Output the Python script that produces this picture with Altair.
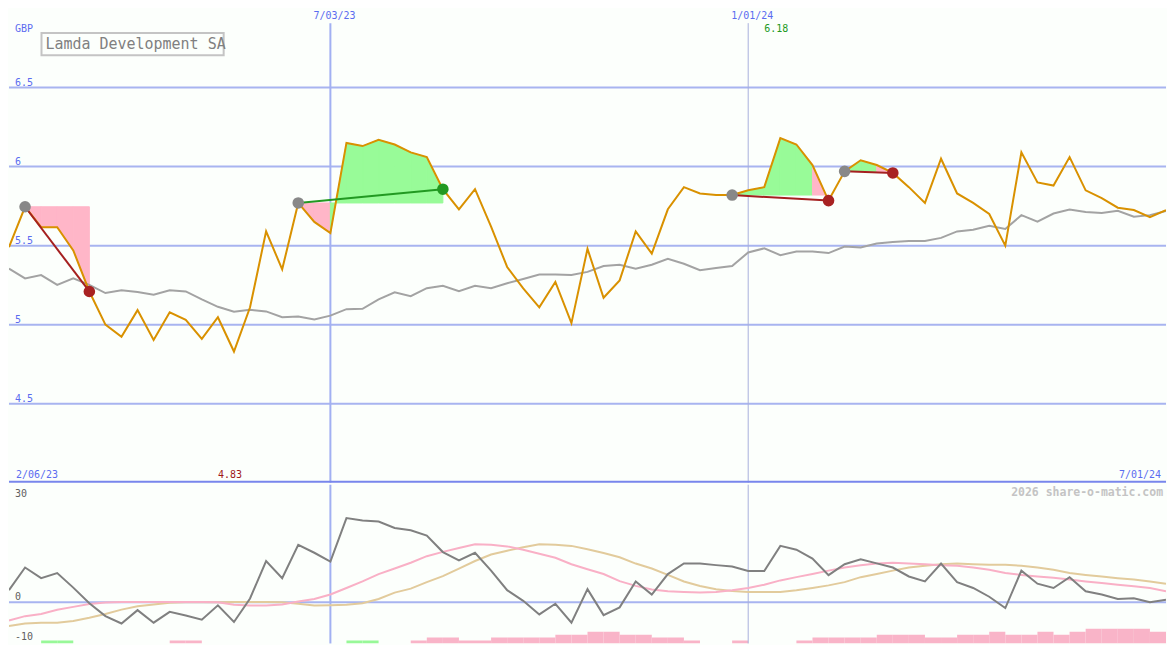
import altair as alt
import pandas as pd

# ---------------- data ----------------
first_week = "2023-02-13"          # weekly closes, one per Monday
currency = "GBP"
company = "Lamda Development SA"

price = [5.49, 5.746, 5.617, 5.617, 5.47, 5.21, 5.00, 4.924, 5.092, 4.903,
         5.078, 5.031, 4.91, 5.047, 4.83, 5.11, 5.59, 5.35, 5.77, 5.65,
         5.58, 6.15, 6.13, 6.17, 6.14, 6.09, 6.06, 5.857, 5.73, 5.857,
         5.62, 5.365, 5.23, 5.11, 5.27, 5.01, 5.48, 5.17, 5.28, 5.59,
         5.45, 5.73, 5.87, 5.83, 5.82, 5.82, 5.85, 5.87, 6.18, 6.14,
         6.01, 5.785, 5.97, 6.04, 6.01, 5.96, 5.87, 5.77, 6.05, 5.83,
         5.77, 5.70, 5.50, 6.09, 5.90, 5.88, 6.06, 5.85, 5.80, 5.74,
         5.725, 5.68, 5.725]

avg = [5.354, 5.293, 5.314, 5.252, 5.293, 5.252, 5.20, 5.217, 5.207, 5.19,
       5.217, 5.21, 5.16, 5.113, 5.082, 5.094, 5.084, 5.047, 5.051, 5.033,
       5.057, 5.098, 5.10, 5.16, 5.205, 5.18, 5.231, 5.246, 5.211, 5.246,
       5.231, 5.262, 5.289, 5.317, 5.317, 5.314, 5.334, 5.371, 5.379, 5.354,
       5.379, 5.416, 5.385, 5.344, 5.359, 5.371, 5.457, 5.483, 5.44, 5.463,
       5.463, 5.453, 5.494, 5.488, 5.514, 5.523, 5.529, 5.529, 5.549, 5.59,
       5.60, 5.625, 5.605, 5.693, 5.652, 5.703, 5.728, 5.713, 5.707, 5.72,
       5.683, 5.693, 5.72]

momentum = [3.5, 10.1, 7.0, 8.5, 4.25, -0.3, -4.05, -6.2, -2.3, -5.95,
            -2.8, -3.85, -5.1, -0.9, -5.75, 1.1, 12.0, 7.0, 16.7, 14.4,
            11.8, 24.5, 23.8, 23.5, 21.6, 20.95, 19.4, 14.6, 12.2, 14.4,
            9.2, 3.5, 0.4, -3.55, -0.45, -5.95, 3.8, -3.75, -1.5, 6.05,
            2.25, 8.2, 11.3, 11.3, 10.8, 10.4, 9.1, 9.1, 16.4, 15.3,
            12.7, 7.9, 11.05, 12.5, 11.3, 10.1, 7.5, 6.05, 11.25, 5.85,
            4.15, 1.6, -1.7, 9.2, 5.4, 4.15, 7.3, 3.2, 2.25, 0.95,
            1.15, 0.0, 0.7]

signal_pink = [-5.3, -4.05, -3.4, -2.2, -1.35, -0.55, -0.1, 0.1, 0.1, 0.1,
               0.1, 0.1, 0.1, 0.0, -0.75, -0.95, -0.95, -0.65, 0.2, 0.95,
               2.25, 4.15, 6.05, 8.2, 9.8, 11.5, 13.4, 14.65, 15.8, 16.9,
               16.7, 16.25, 15.3, 14.1, 12.95, 11.05, 9.6, 8.2, 6.15, 4.75,
               3.7, 3.2, 3.0, 2.85, 3.0, 3.5, 4.15, 5.1, 6.35, 7.3,
               8.2, 9.2, 10.1, 10.75, 11.3, 11.5, 11.3, 11.05, 10.75, 10.6,
               10.1, 9.45, 8.5, 7.95, 7.5, 7.1, 6.6, 6.05, 5.6, 5.1,
               4.65, 4.15, 3.2]

signal_tan = [-6.9, -6.2, -5.95, -5.95, -5.45, -4.5, -3.4, -2.15, -1.2, -0.65,
              -0.15, 0.0, 0.0, 0.0, 0.1, 0.1, 0.1, 0.0, -0.45, -0.95,
              -0.85, -0.75, -0.3, 0.95, 2.8, 3.95, 5.85, 7.6, 9.8, 12.0,
              13.9, 15.0, 16.0, 16.9, 16.7, 16.4, 15.4, 14.35, 13.1, 11.25,
              9.8, 7.95, 6.05, 4.75, 3.8, 3.3, 3.0, 3.0, 3.0, 3.5,
              4.15, 4.9, 5.85, 7.3, 8.2, 9.2, 10.1, 10.6, 11.05, 11.3,
              11.05, 10.9, 10.9, 10.6, 10.1, 9.45, 8.5, 7.95, 7.5, 7.0,
              6.6, 6.05, 5.4]

pink_bars = [0, 0, 0, 0, 0, 0, 0, 0, 0, 0,
             1, 1, 0, 0, 0, 0, 0, 0, 0, 0,
             0, 0, 0, 0, 0, 1, 2, 2, 1, 1,
             2, 2, 2, 2, 3, 3, 4, 4, 3, 3,
             2, 2, 1, 0, 0, 1, 0, 0, 0, 1,
             2, 2, 2, 2, 3, 3, 3, 2, 2, 3,
             3, 4, 3, 3, 4, 3, 4, 5, 5, 5,
             5, 4, 4]
green_bars = [0, 0, 1, 1, 0, 0, 0, 0, 0, 0,
              0, 0, 0, 0, 0, 0, 0, 0, 0, 0,
              0, 1, 1, 0, 0, 0, 0, 0, 0, 0,
              0, 0, 0, 0, 0, 0, 0, 0, 0, 0,
              0, 0, 0, 0, 0, 0, 0, 0, 0, 0,
              0, 0, 0, 0, 0, 0, 0, 0, 0, 0,
              0, 0, 0, 0, 0, 0, 0, 0, 0, 0,
              0, 0, 0]

trade_entries = ["2023-02-20", "2023-06-19", "2023-12-25", "2024-02-12"]
trade_exits = ["2023-03-20", "2023-08-21", "2024-02-05", "2024-03-04"]

price_ticks = [6.5, 6.0, 5.5, 5.0, 4.5]
price_tick_labels = ["6.5", "6", "5.5", "5", "4.5"]
osc_ticks = [30, 0, -10]
osc_tick_labels = ["30", "0", "-10"]

marker_dates = ["2023-07-03", "2024-01-01"]
marker_labels = ["7/03/23", "1/01/24"]
range_labels = ["2/06/23", "7/01/24"]
high_date, high_label = "2024-01-15", "6.18"
low_date, low_label = "2023-05-22", "4.83"
watermark = "2026 share-o-matic.com"

# ---------------- layout ----------------
W = 1159
H1 = 475
H2 = 159
SX = W / 1175
SY = (H1 + H2) / 650


def px(v):
    return v * SX


def py(v):
    return v * SY


MONO = "DejaVu Sans Mono"
BLUE = "#5b6cf0"
GRID = "#a8b4f0"
BG = "#fcfffc"

dates = pd.date_range(first_week, periods=len(price), freq="7D")
date_str = [d.strftime("%Y-%m-%d") for d in dates]
end_str = [(d + pd.Timedelta(days=7)).strftime("%Y-%m-%d") for d in dates]
idx = {d: i for i, d in enumerate(date_str)}

weekly = pd.DataFrame({
    "date": date_str, "price": price, "avg": avg, "mom": momentum,
    "sp": signal_pink, "st": signal_tan,
})

# trade fill segments, trade lines and markers
fill_rows, line_rows, dot_rows = [], [], []
for t, (en, ex) in enumerate(zip(trade_entries, trade_exits)):
    e, x = idx[en], idx[ex]
    base = price[e]
    result = "win" if price[x] > base else "loss"
    for s in range(e, x):
        kind = "up" if price[s + 1] >= base else "down"
        for j in (s, s + 1):
            fill_rows.append({"date": date_str[j], "price": price[j], "base": base,
                              "seg": f"{t}-{s}", "kind": kind})
    for j in (e, x):
        line_rows.append({"date": date_str[j], "price": price[j], "trade": t, "result": result})
    dot_rows.append({"date": date_str[e], "price": price[e], "kind": "entry"})
    dot_rows.append({"date": date_str[x], "price": price[x], "kind": result})
fills = pd.DataFrame(fill_rows)
tlines = pd.DataFrame(line_rows)
dots = pd.DataFrame(dot_rows)

bar_rows = []
for i in range(len(price)):
    if pink_bars[i]:
        bar_rows.append({"date": date_str[i], "end": end_str[i], "lvl": pink_bars[i], "kind": "pink"})
    if green_bars[i]:
        bar_rows.append({"date": date_str[i], "end": end_str[i], "lvl": green_bars[i], "kind": "green"})
bars = pd.DataFrame(bar_rows)

ptick_df = pd.DataFrame({"v": price_ticks, "lab": price_tick_labels})
otick_df = pd.DataFrame({"v": osc_ticks, "lab": osc_tick_labels})
mark_df = pd.DataFrame({"date": marker_dates, "lab": marker_labels})
one = pd.DataFrame({"a": [0]})

xscale = alt.Scale(type="utc", domain=[alt.DateTime(year=2023, month=2, date=13, utc=True),
                                       alt.DateTime(year=2024, month=7, date=1, utc=True)])
ytop = alt.Scale(domain=[4.0, 7.0], nice=False, zero=False)
ybot = alt.Scale(domain=[-12, 34.2], nice=False, zero=False)


def X(field="date"):
    return alt.X(f"{field}:T", scale=xscale, axis=None)


def YT(field):
    return alt.Y(f"{field}:Q", scale=ytop, axis=None)


def YB(field):
    return alt.Y(f"{field}:Q", scale=ybot, axis=None)


# ---------------- top (price) panel ----------------
grid = alt.Chart(ptick_df).mark_rule(color=GRID, strokeWidth=2).encode(y=YT("v"))
vline_a = alt.Chart(mark_df).transform_filter(f"datum.lab == '{marker_labels[0]}'").mark_rule(
    color="#a2b0f2", strokeWidth=2).encode(x=X(), y=alt.value(py(15)), y2=alt.value(H1))
vline_b = alt.Chart(mark_df).transform_filter(f"datum.lab == '{marker_labels[1]}'").mark_rule(
    color="#a8b0dc", strokeWidth=1).encode(x=X(), y=alt.value(py(15)), y2=alt.value(H1))
separator = alt.Chart(one).mark_rule(color="#7886ec", strokeWidth=2).encode(y=alt.value(H1 - 1))

fill_scale = alt.Scale(domain=["up", "down"], range=["#98fb98", "#ffb6c8"])
fill_layer = alt.Chart(fills).mark_area(clip=True, opacity=1, strokeWidth=1).encode(
    x=X(), y=YT("price"), y2="base:Q", detail="seg:N",
    color=alt.Color("kind:N", scale=fill_scale, legend=None),
    stroke=alt.Stroke("kind:N", scale=fill_scale, legend=None))
avg_line = alt.Chart(weekly).mark_line(color="#a3a3a3", strokeWidth=2, clip=True).encode(
    x=X(), y=YT("avg"))
price_line = alt.Chart(weekly).mark_line(color="#d99100", strokeWidth=2, clip=True).encode(
    x=X(), y=YT("price"))
trade_line = alt.Chart(tlines).mark_line(strokeWidth=2, clip=True).encode(
    x=X(), y=YT("price"), detail="trade:N",
    color=alt.Color("result:N", scale=alt.Scale(domain=["win", "loss"], range=["#229922", "#a52020"]),
                    legend=None))
dot_layer = alt.Chart(dots).mark_circle(size=135, opacity=1).encode(
    x=X(), y=YT("price"),
    color=alt.Color("kind:N", scale=alt.Scale(domain=["entry", "win", "loss"],
                                              range=["#888888", "#229922", "#a82222"]), legend=None))

title_box = alt.Chart(one).mark_rect(fill=BG, stroke="#c4c4c4", strokeWidth=2).encode(
    x=alt.value(px(33)), x2=alt.value(px(218)), y=alt.value(py(25)), y2=alt.value(py(48)))
title_txt = alt.Chart(pd.DataFrame({"t": [company]})).mark_text(
    align="left", baseline="middle", font=MONO, fontSize=15, color="#808080").encode(
    x=alt.value(px(37)), y=alt.value(py(36.5)), text="t:N")
cur_txt = alt.Chart(pd.DataFrame({"t": [currency]})).mark_text(
    align="left", baseline="middle", font=MONO, fontSize=10, color=BLUE).encode(
    x=alt.value(px(6)), y=alt.value(py(21)), text="t:N")
ptick_txt = alt.Chart(ptick_df).mark_text(
    align="left", baseline="alphabetic", dy=-2, font=MONO, fontSize=10, color=BLUE).encode(
    x=alt.value(px(6)), y=YT("v"), text="lab:N")
marker_txt = alt.Chart(mark_df).mark_text(
    align="center", baseline="middle", dx=4, font=MONO, fontSize=10, color=BLUE).encode(
    x=X(), y=alt.value(py(8)), text="lab:N")
high_txt = alt.Chart(pd.DataFrame({"date": [high_date], "lab": [high_label]})).mark_text(
    align="center", baseline="middle", dx=-4, font=MONO, fontSize=10, color="#229922").encode(
    x=X(), y=alt.value(py(21)), text="lab:N")
low_txt = alt.Chart(pd.DataFrame({"date": [low_date], "lab": [low_label]})).mark_text(
    align="center", baseline="middle", dx=-4, font=MONO, fontSize=10, color="#a01818").encode(
    x=X(), y=alt.value(py(479)), text="lab:N")
left_txt = alt.Chart(pd.DataFrame({"lab": [range_labels[0]]})).mark_text(
    align="left", baseline="middle", font=MONO, fontSize=10, color=BLUE).encode(
    x=alt.value(px(7)), y=alt.value(py(479)), text="lab:N")
right_txt = alt.Chart(pd.DataFrame({"lab": [range_labels[1]]})).mark_text(
    align="right", baseline="middle", font=MONO, fontSize=10, color=BLUE).encode(
    x=alt.value(px(1170)), y=alt.value(py(479)), text="lab:N")

top = alt.layer(
    grid, vline_a, vline_b, separator, fill_layer, avg_line, price_line, trade_line, dot_layer,
    title_box, title_txt, cur_txt, ptick_txt, marker_txt, high_txt, low_txt, left_txt, right_txt,
).resolve_scale(color="independent", stroke="independent").properties(width=W, height=H1)

# ---------------- bottom (oscillator) panel ----------------
bar_layer = alt.Chart(bars).mark_rect(clip=True).encode(
    x=X(), x2="end:T",
    y=alt.Y("lvl:Q", scale=alt.Scale(domain=[0, 163 / 3], nice=False), axis=None),
    y2=alt.datum(0),
    color=alt.Color("kind:N", scale=alt.Scale(domain=["pink", "green"], range=["#f9b4c8", "#98f898"]),
                    legend=None))

zero_line = alt.Chart(otick_df).transform_filter("datum.v == 0").mark_rule(
    color=GRID, strokeWidth=2).encode(y=YB("v"))
bvline_a = alt.Chart(mark_df).transform_filter(f"datum.lab == '{marker_labels[0]}'").mark_rule(
    color="#a2b0f2", strokeWidth=2).encode(x=X(), y=alt.value(0), y2=alt.value(H2))
bvline_b = alt.Chart(mark_df).transform_filter(f"datum.lab == '{marker_labels[1]}'").mark_rule(
    color="#a8b0dc", strokeWidth=1).encode(x=X(), y=alt.value(0), y2=alt.value(H2))
tan_line = alt.Chart(weekly).mark_line(color="#e2cb9c", strokeWidth=2, clip=True).encode(
    x=X(), y=YB("st"))
pink_line = alt.Chart(weekly).mark_line(color="#f9b0c6", strokeWidth=2, clip=True).encode(
    x=X(), y=YB("sp"))
mom_line = alt.Chart(weekly).mark_line(color="#808080", strokeWidth=2, clip=True).encode(
    x=X(), y=YB("mom"))
otick_txt = alt.Chart(otick_df).transform_filter("datum.v > -10").mark_text(
    align="left", baseline="alphabetic", dy=-2, font=MONO, fontSize=10, color="#606060").encode(
    x=alt.value(px(6)), y=YB("v"), text="lab:N")
otick_low = alt.Chart(otick_df).transform_filter("datum.v <= -10").mark_text(
    align="left", baseline="middle", font=MONO, fontSize=10, color="#606060").encode(
    x=alt.value(px(6)), y=YB("v"), text="lab:N")
wm_txt = alt.Chart(pd.DataFrame({"t": [watermark]})).mark_text(
    align="right", baseline="middle", font=MONO, fontSize=11.5, fontWeight="bold",
    color="#c4c4c4").encode(x=alt.value(px(1172)), y=alt.value(py(9)), text="t:N")

osc = alt.layer(zero_line, bvline_a, bvline_b, tan_line, pink_line, mom_line,
                otick_txt, otick_low, wm_txt)

bottom = alt.layer(bar_layer, osc).resolve_scale(y="independent").properties(width=W, height=H2)

chart = alt.vconcat(top, bottom, spacing=0).properties(
    background=BG, padding=0
).configure_view(stroke=None)

chart.save("out.html", embed_options={"renderer": "svg", "actions": False})
